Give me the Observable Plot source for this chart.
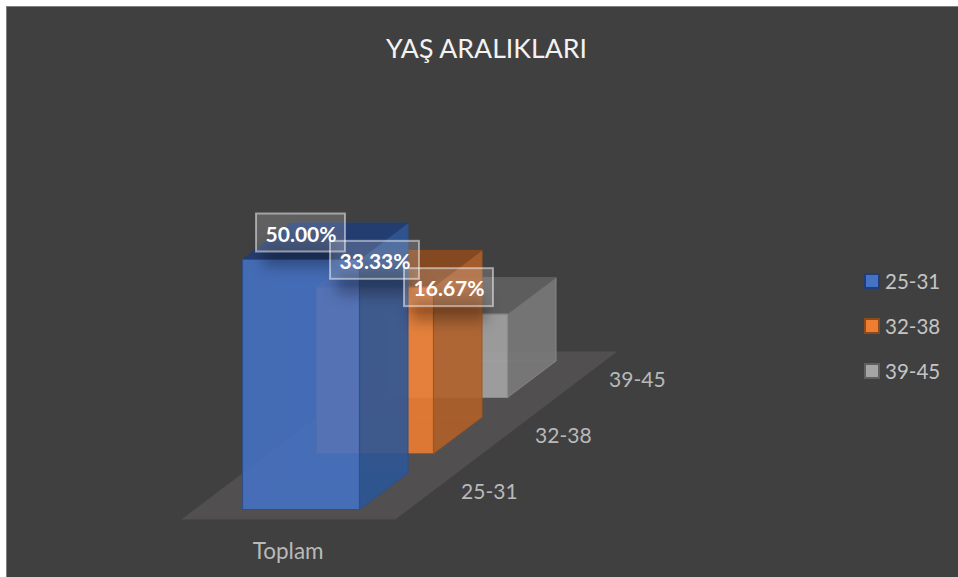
<!DOCTYPE html>
<html lang="tr">
<head>
<meta charset="utf-8">
<script src="https://cdn.jsdelivr.net/npm/d3@7"></script>
<script src="https://cdn.jsdelivr.net/npm/@observablehq/plot@0.6"></script>
<style>
  html,body{margin:0;padding:0;width:958px;height:577px;overflow:hidden;background:#fff;font-family:Lato,"Open Sans",sans-serif}
  #panel{position:absolute;left:6px;top:6px;width:952px;height:571px;box-sizing:border-box;background:#404040;border-left:1.5px solid #7f7f7f;border-top:1.5px solid #7f7f7f}
  #chart{position:absolute;left:0;top:0}
  #legend{position:absolute;left:864px;top:259px}
  .item{position:absolute;left:0;display:flex;align-items:center;height:44px;color:#c4c4c4;font-size:20.5px;white-space:nowrap}
  .sw{box-sizing:border-box;width:16px;height:16px;border-width:2px;border-style:solid;margin-right:5px}
</style>
</head>
<body>
<div id="panel"></div>
<div id="chart"></div>
<div id="legend"></div>
<script>
const chartTitle = "YAŞ ARALIKLARI";
const category = "Toplam";
const seriesNames = ["25-31", "32-38", "39-45"];
const seriesValues = [50.00, 33.33, 16.67];
const frontColors = ["#4472C4", "#ED7D31", "#A5A5A5"];
const sideColors = ["#2C5597", "#B0602A", "#7A7A7A"];
const topColors = ["#223D75", "#8A4A1E", "#5F5F5F"];
const edgeColors = ["#2F4F8C", "#A0551F", "#8A8A8A"];

// Oblique projection of the 3D chart space (series step s, width w, depth d, value v)
// into the plot's x scale (series steps) and y scale (percent).
const P = (s, w, d, v) => ({x: s + (117 * w + 48.5 * d) / 74, y: v + (56 * s + 36.5 * d) / 5});

const face = (pts, o) => Plot.line([...pts, pts[0]], {x: "x", y: "y", curve: "linear", strokeLinejoin: "miter", ...o});

const floorMark = face(
  [P(-0.18, -0.41, 0, 0), P(-0.18, 1.42, 0, 0), P(2.82, 1.42, 0, 0), P(2.82, -0.41, 0, 0)],
  {fill: "#514F4F", stroke: "none"}
);

const barMarks = [];
for (let s = seriesValues.length - 1; s >= 0; s--) {
  const v = seriesValues[s];
  const alpha = 0.89;
  barMarks.push(
    face([P(s, 0, 1, 0), P(s, 1, 1, 0), P(s, 1, 1, v), P(s, 0, 1, v)], {fill: frontColors[s], fillOpacity: 0.06, stroke: edgeColors[s], strokeOpacity: 0.45, strokeWidth: 1}),
    face([P(s, 0, 0, 0), P(s, 1, 0, 0), P(s, 1, 1, 0), P(s, 0, 1, 0)], {fill: frontColors[s], fillOpacity: 0.05, stroke: edgeColors[s], strokeOpacity: 0.35, strokeWidth: 1}),
    face([P(s, 1, 0, 0), P(s, 1, 1, 0), P(s, 1, 1, v), P(s, 1, 0, v)], {fill: sideColors[s], fillOpacity: alpha, stroke: edgeColors[s], strokeOpacity: 0.7, strokeWidth: 1}),
    face([P(s, 0, 0, v), P(s, 1, 0, v), P(s, 1, 1, v), P(s, 0, 1, v)], {fill: topColors[s], fillOpacity: 0.92, stroke: topColors[s], strokeOpacity: 0.6, strokeWidth: 1}),
    face([P(s, 0, 0, 0), P(s, 1, 0, 0), P(s, 1, 0, v), P(s, 0, 0, v)], {fill: frontColors[s], fillOpacity: alpha, stroke: edgeColors[s], strokeWidth: 1.2})
  );
}

// Data labels sit above the front edge of each bar's top
const labels = seriesValues.map((v, s) => {
  const c = P(s, 0.5, 0, v);
  return {x: c.x, y: c.y + 5.3, text: d3.format(".2f")(v) + "%"};
});
const halfW = 44.5 / 74, halfH = 19 / 5;

const shadowMark = Plot.rect(labels, {
  x1: d => d.x - halfW * 0.85, x2: d => d.x + halfW * 0.85,
  y1: d => d.y - halfH * 1.8, y2: d => d.y - halfH * 0.5,
  fill: "#000", fillOpacity: 0.3, imageFilter: "blur(7px)"
});
const boxMark = Plot.rect(labels, {
  x1: d => d.x - halfW, x2: d => d.x + halfW,
  y1: d => d.y - halfH, y2: d => d.y + halfH,
  fill: "#fff", fillOpacity: 0.17, stroke: "#fff", strokeOpacity: 0.48, strokeWidth: 2
});
const labelMark = Plot.text(labels, {
  x: "x", y: "y", dy: 2, text: "text", fill: "#fff", fontSize: 21, fontWeight: 700, fontFamily: "Lato"
});

const tickData = seriesNames.map((name, s) => ({name, ...P(s, 2.11, 0, 3.4)}));
const tickMark = Plot.text(tickData, {x: "x", y: "y", text: "name", fill: "#b9b9b9", fontSize: 21, fontFamily: "Lato"});
const catMark = Plot.text([{name: category, ...P(0, 0.39, 0, -8.4)}], {x: "x", y: "y", text: "name", fill: "#b9b9b9", fontSize: 22.5, fontFamily: "Lato"});
const titleMark = Plot.text([chartTitle], {frameAnchor: "top", dx: 7, dy: 39, lineAnchor: "top", text: d => d, fill: "#f2f2f2", fontSize: 26.7, fontFamily: "Lato"});

const plot = Plot.plot({
  width: 958, height: 577,
  marginTop: 0, marginRight: 0, marginBottom: 0, marginLeft: 0,
  x: {domain: [-242 / 74, (958 - 242) / 74], range: [0, 958], axis: null},
  y: {domain: [509 / 5, (509 - 577) / 5], range: [0, 577], axis: null},
  style: {background: "transparent", fontFamily: "Lato"},
  marks: [floorMark, ...barMarks, shadowMark, boxMark, labelMark, tickMark, catMark, titleMark]
});
document.getElementById("chart").append(plot);

const legend = document.getElementById("legend");
seriesNames.forEach((name, i) => {
  const it = document.createElement("div");
  it.className = "item";
  it.style.top = (i * 45) + "px";
  const sw = document.createElement("span");
  sw.className = "sw";
  sw.style.background = frontColors[i];
  sw.style.borderColor = topColors[i];
  it.append(sw, name);
  legend.append(it);
});
</script>
</body>
</html>
